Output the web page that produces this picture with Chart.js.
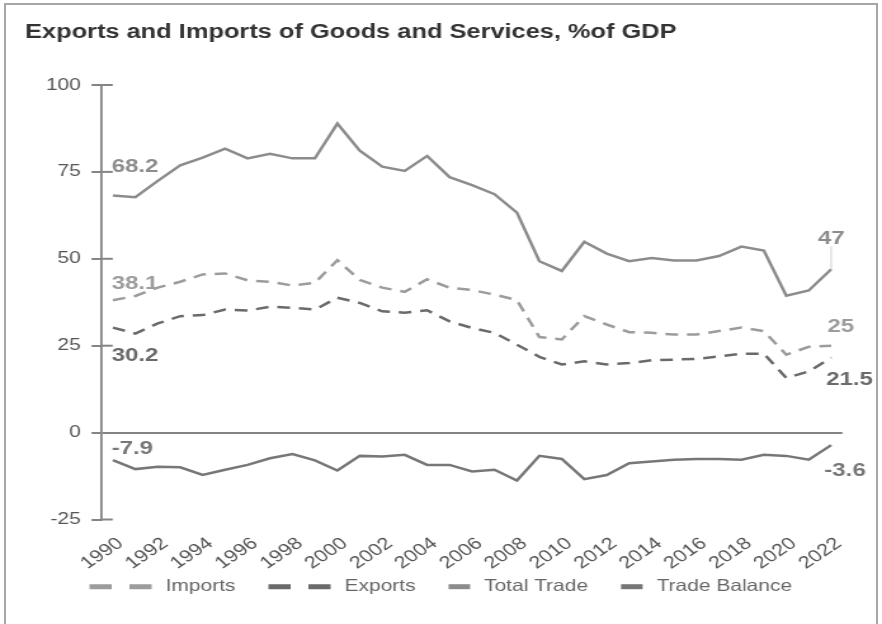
<!DOCTYPE html>
<html>
<head>
<meta charset="utf-8">
<title>Exports and Imports of Goods and Services</title>
<script src="https://cdn.jsdelivr.net/npm/chart.js@4.4.1/dist/chart.umd.min.js"></script>
<style>
  html, body { margin: 0; padding: 0; background: #fff; }
  #wrap { position: relative; width: 882px; height: 624px; overflow: hidden; }
  #frame {
    position: absolute; left: 4px; top: 3px; width: 870px; height: 700px;
    border: 2px solid #a6a6a6; border-bottom: none;
  }
  #chart { position: absolute; left: 0; top: 0; }
</style>
</head>
<body>
<div id="wrap">
  <div id="frame"></div>
  <!-- drawn 695 wide, shown stretched to 882 -->
  <canvas id="chart" width="695" height="624" style="width:882px;height:624px"></canvas>
</div>
<script>
const years = ["1990", "1991", "1992", "1993", "1994", "1995", "1996", "1997", "1998", "1999",
  "2000", "2001", "2002", "2003", "2004", "2005", "2006", "2007", "2008", "2009",
  "2010", "2011", "2012", "2013", "2014", "2015", "2016", "2017", "2018", "2019",
  "2020", "2021", "2022"];

const imports = [38.1, 39.3, 41.7, 43.4, 45.5, 45.8, 43.8, 43.4, 42.3, 43.1,
  49.6, 43.9, 41.7, 40.5, 44.1, 41.7, 41.0, 39.7, 38.1, 27.5,
  26.8, 33.5, 31.1, 28.9, 28.7, 28.2, 28.2, 29.2, 30.2, 29.2,
  22.4, 24.7, 25];

const exports = [30.2, 28.5, 31.4, 33.5, 33.8, 35.4, 35.1, 36.2, 35.9, 35.4,
  38.8, 37.3, 34.9, 34.5, 35.2, 32.0, 30.1, 28.7, 25.3, 21.8,
  19.6, 20.5, 19.6, 20.0, 20.8, 21.0, 21.2, 21.9, 22.7, 22.7,
  15.7, 17.6, 21.5];

const totalTrade = [68.2, 67.7, 72.4, 76.9, 79.1, 81.7, 78.9, 80.2, 78.9, 78.9,
  88.9, 81.1, 76.5, 75.3, 79.6, 73.5, 71.2, 68.6, 63.3, 49.3,
  46.5, 54.9, 51.5, 49.3, 50.2, 49.5, 49.5, 50.8, 53.5, 52.4,
  39.4, 40.9, 47];

const tradeBalance = [-7.9, -10.5, -9.8, -10.0, -12.2, -10.7, -9.3, -7.4, -6.2, -8.0,
  -10.9, -6.7, -6.9, -6.4, -9.3, -9.3, -11.2, -10.7, -13.8, -6.7,
  -7.6, -13.4, -12.2, -8.8, -8.3, -7.8, -7.6, -7.6, -7.8, -6.4,
  -6.7, -7.8, -3.6];

const seriesNames = ["Imports", "Exports", "Total Trade", "Trade Balance"];
const yTicks = [-25, 0, 25, 50, 75, 100];

const FONT = "'Liberation Sans', Arial, Helvetica, sans-serif";
const AXIS_GREY = "#848484";

Chart.defaults.font.family = FONT;
Chart.defaults.color = "#555";

// value labels at the first and last year of each line
const endLabels = [
  { ds: 2, at: 0, align: "left", dx: -1, dy: -24 },
  { ds: 0, at: 0, align: "left", dx: -1, dy: -11 },
  { ds: 1, at: 0, align: "left", dx: -1, dy: 33 },
  { ds: 3, at: 0, align: "left", dx: -1, dy: -6 },
  { ds: 2, at: 32, align: "center", dx: 0, dy: -25, leader: true },
  { ds: 0, at: 32, align: "left", dx: -3, dy: -14 },
  { ds: 1, at: 32, align: "left", dx: -4, dy: 27 },
  { ds: 3, at: 32, align: "left", dx: -5.5, dy: 31 }
];

const valueLabels = {
  id: "valueLabels",
  afterDatasetsDraw(chart) {
    const ctx = chart.ctx;
    ctx.save();
    ctx.font = "bold 19px " + FONT;
    ctx.textBaseline = "alphabetic";
    endLabels.forEach(l => {
      const ds = chart.data.datasets[l.ds];
      const pt = chart.getDatasetMeta(l.ds).data[l.at];
      if (l.leader) {
        ctx.strokeStyle = "#d0d0d0";
        ctx.lineWidth = 1;
        ctx.beginPath();
        ctx.moveTo(pt.x, pt.y);
        ctx.lineTo(pt.x, pt.y + l.dy + 2);
        ctx.stroke();
      }
      ctx.fillStyle = ds.borderColor;
      ctx.textAlign = l.align;
      ctx.fillText(String(ds.data[l.at]), pt.x + l.dx, pt.y + l.dy);
    });
    ctx.restore();
  }
};

// short tick stubs on the plot side of the value axis
const innerTicks = {
  id: "innerTicks",
  afterDraw(chart) {
    const ctx = chart.ctx;
    const y = chart.scales.y;
    const left = chart.chartArea.left;
    ctx.save();
    ctx.strokeStyle = AXIS_GREY;
    ctx.lineWidth = 2;
    y.ticks.forEach(t => {
      if (t.value === 0) return;
      const py = y.getPixelForValue(t.value);
      ctx.beginPath();
      ctx.moveTo(left, py);
      ctx.lineTo(left + 8.7, py);
      ctx.stroke();
    });
    ctx.restore();
  }
};

// legend row with dashed / solid line keys
const lineKey = {
  id: "lineKey",
  afterDraw(chart) {
    const ctx = chart.ctx;
    const y = 586;
    let x = 70.5;
    ctx.save();
    ctx.font = "16.5px " + FONT;
    ctx.textBaseline = "middle";
    ctx.textAlign = "left";
    chart.data.datasets.forEach(ds => {
      const dashed = ds.borderDash && ds.borderDash.length > 0;
      const w = dashed ? 49 : 17;
      ctx.strokeStyle = ds.borderColor;
      ctx.lineWidth = 5;
      ctx.setLineDash(dashed ? [17.5, 14] : []);
      ctx.beginPath();
      ctx.moveTo(x, y + 0.7);
      ctx.lineTo(x + w, y + 0.7);
      ctx.stroke();
      x += w + 11;
      ctx.fillStyle = "#666";
      ctx.fillText(ds.label, x, y);
      x += ctx.measureText(ds.label).width + 26;
    });
    ctx.restore();
  }
};

const data = {
  labels: years,
  datasets: [
    { label: seriesNames[0], data: imports, borderColor: "#9c9c9c", borderDash: [10, 7] },
    { label: seriesNames[1], data: exports, borderColor: "#6a6a6a", borderDash: [10, 7] },
    { label: seriesNames[2], data: totalTrade, borderColor: "#8c8c8c" },
    { label: seriesNames[3], data: tradeBalance, borderColor: "#777777" }
  ].map(d => Object.assign({ borderWidth: 2.5, pointRadius: 0, tension: 0, fill: false }, d))
};

const config = {
  type: "line",
  data: data,
  options: {
    responsive: false,
    devicePixelRatio: 1,
    animation: false,
    layout: { padding: { left: 19.7, right: 31.2, top: 0, bottom: 54.5 } },
    plugins: {
      legend: { display: false },
      tooltip: { enabled: false },
      title: {
        display: true,
        text: "Exports and Imports of Goods and Services, %of GDP",
        align: "start",
        color: "#333",
        font: { size: 20, weight: "bold" },
        padding: { top: 20, bottom: 41 }
      }
    },
    scales: {
      x: {
        offset: true,
        grid: { display: false, drawTicks: false },
        border: { display: false },
        afterFit(scale) { scale.height = 50; },
        ticks: {
          autoSkip: false,
          minRotation: 40,
          maxRotation: 40,
          padding: 14,
          labelOffset: 6,
          color: "#555",
          font: { size: 17 },
          callback(value, index) {
            return index % 2 === 0 ? this.getLabelForValue(value) : "";
          }
        }
      },
      y: {
        min: yTicks[0],
        max: yTicks[yTicks.length - 1],
        afterFit(scale) { scale.width = 60.4; },
        afterBuildTicks(scale) { scale.ticks = yTicks.map(v => ({ value: v })); },
        border: { display: true, color: AXIS_GREY, width: 1.8 },
        grid: {
          color: c => (c.tick && c.tick.value === 0 ? AXIS_GREY : "transparent"),
          lineWidth: 2,
          tickColor: AXIS_GREY,
          tickLength: 8
        },
        ticks: {
          padding: 8.4,
          color: "#555",
          font: { size: 16.5 }
        }
      }
    }
  },
  plugins: [innerTicks, valueLabels, lineKey]
};

new Chart(document.getElementById("chart").getContext("2d"), config);
</script>
</body>
</html>
